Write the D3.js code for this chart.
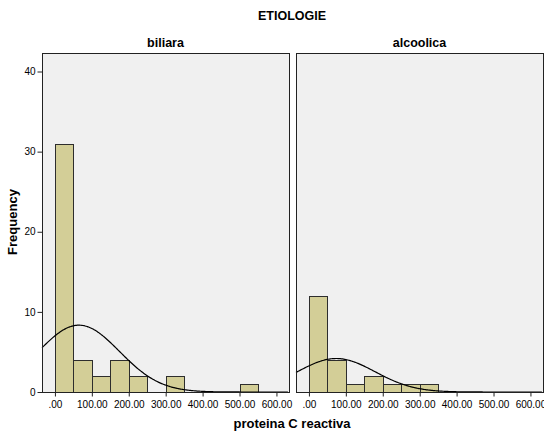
<!DOCTYPE html>
<html>
<head>
<meta charset="utf-8">
<script src="https://cdn.jsdelivr.net/npm/d3@7"></script>
<style>
  body { margin: 0; background: #fff; }
  text { font-family: "Liberation Sans", Arial, sans-serif; fill: #000; }
</style>
</head>
<body>
<div id="chart"></div>
<script>
const width = 544
const height = 432

// data
const panels = ["biliara", "alcoolica"]
const binStarts = [0, 50, 100, 150, 200, 250, 300, 350, 400, 450, 500, 550]
const biliaraCounts = [31, 4, 2, 4, 2, 0, 2, 0, 0, 0, 1, 0]
const alcoolicaCounts = [12, 4, 1, 2, 1, 1, 1, 0, 0, 0, 0, 0]
const binWidth = 50
const fitMean = [65, 74]
const fitSd = [110, 105]
const xTicks = [0, 100, 200, 300, 400, 500, 600]
const yTicks = [0, 10, 20, 30, 40]

const svg = d3.select("#chart")
  .append("svg")
  .attr("width", width)
  .attr("height", height)

const plotTop = 53, plotBottom = 392
const panelX = [[42, 289], [296, 543]]

const y = d3.scaleLinear().domain([0, 40]).range([plotBottom, 71.5])

svg.append("text")
  .attr("x", 292)
  .attr("y", 20)
  .attr("text-anchor", "middle")
  .attr("font-size", "12.5px")
  .attr("font-weight", "bold")
  .text("ETIOLOGIE")

const counts = [biliaraCounts, alcoolicaCounts]

panels.forEach((name, i) => {
  const [x0, x1] = panelX[i]
  const x = d3.scaleLinear().domain([-35, 634]).range([x0, x1])
  const g = svg.append("g")

  g.append("rect")
    .attr("x", x0 + 0.5).attr("y", plotTop + 0.5)
    .attr("width", x1 - x0).attr("height", plotBottom - plotTop)
    .attr("fill", "#f0f0f0")

  const bins = binStarts.map((s, k) => ({start: s, n: counts[i][k]})).filter(d => d.n > 0)

  g.selectAll("rect.bar")
    .data(bins)
    .join("rect")
      .attr("class", "bar")
      .attr("x", d => Math.round(x(d.start)) + 0.5)
      .attr("y", d => Math.round(y(d.n)) + 0.5)
      .attr("width", d => Math.round(x(d.start + binWidth)) - Math.round(x(d.start)))
      .attr("height", d => Math.round(y(0)) - Math.round(y(d.n)))
      .attr("fill", "#d3ce97")
      .attr("stroke", "#2d2d2d")
      .attr("stroke-width", 1)

  // fitted normal curve
  const total = d3.sum(counts[i])
  const m = fitMean[i], sd = fitSd[i]
  const xs = d3.range(-35, 634, 3)
  const line = d3.line()
    .x(v => x(v))
    .y(v => y(total * binWidth / (sd * Math.sqrt(2 * Math.PI)) * Math.exp(-((v - m) ** 2) / (2 * sd * sd))))
    .curve(d3.curveBasis)

  g.append("path")
    .datum(xs)
    .attr("d", line)
    .attr("fill", "none")
    .attr("stroke", "#000")
    .attr("stroke-width", 1.2)

  g.append("rect")
    .attr("x", x0 + 0.5).attr("y", plotTop + 0.5)
    .attr("width", x1 - x0).attr("height", plotBottom - plotTop)
    .attr("fill", "none")
    .attr("stroke", "#222")
    .attr("stroke-width", 1)

  const xAxis = g.append("g")
    .attr("transform", `translate(0,${plotBottom + 0.5})`)
    .call(d3.axisBottom(x).tickValues(xTicks).tickSize(4).tickPadding(4)
      .tickFormat(d => d === 0 ? ".00" : d3.format(".2f")(d)))
  xAxis.select(".domain").remove()
  xAxis.selectAll("text").attr("font-size", "10px").attr("font-family", "Liberation Sans, Arial, sans-serif").attr("fill", "#222")
  xAxis.selectAll("line").attr("stroke", "#222")

  svg.append("text")
    .attr("x", (x0 + x1) / 2)
    .attr("y", 47)
    .attr("text-anchor", "middle")
    .attr("font-size", "12.5px")
    .attr("font-weight", "bold")
    .text(name)
})

const yAxis = svg.append("g")
  .attr("transform", `translate(42.5,0)`)
  .call(d3.axisLeft(y).tickValues(yTicks).tickSize(5).tickPadding(2))
yAxis.select(".domain").remove()
yAxis.selectAll("text").attr("font-size", "10px").attr("font-family", "Liberation Sans, Arial, sans-serif").attr("fill", "#222")
yAxis.selectAll("line").attr("stroke", "#222")

svg.append("text")
  .attr("transform", "translate(17,222) rotate(-90)")
  .attr("text-anchor", "middle")
  .attr("font-size", "13px")
  .attr("font-weight", "bold")
  .text("Frequency")

svg.append("text")
  .attr("x", 292)
  .attr("y", 428)
  .attr("text-anchor", "middle")
  .attr("font-size", "13px")
  .attr("font-weight", "bold")
  .text("proteina C reactiva")
</script>
</body>
</html>
